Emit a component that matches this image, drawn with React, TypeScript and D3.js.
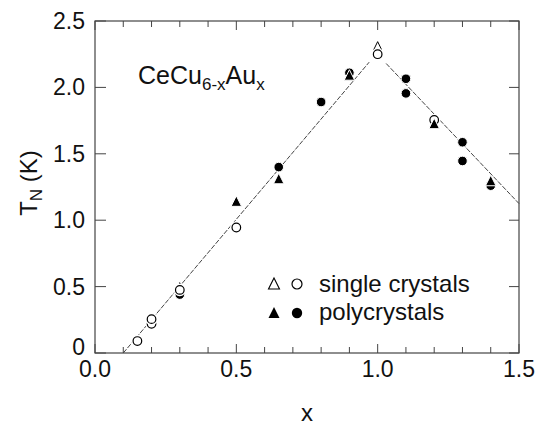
import React from "react";
import * as d3 from "d3";

const W = 538;
const H = 429;
const margin = { left: 95, right: 19, top: 21, bottom: 76 };

const xTicksMajor = [0.0, 0.5, 1.0, 1.5];
const xTickLabels = ["0.0", "0.5", "1.0", "1.5"];
const xTicksMinor = [0.1, 0.2, 0.3, 0.4, 0.6, 0.7, 0.8, 0.9, 1.1, 1.2, 1.3, 1.4];
const yTicks = [0, 0.5, 1.0, 1.5, 2.0, 2.5];
const yTickLabels = ["0", "0.5", "1.0", "1.5", "2.0", "2.5"];

// single crystals (drawn above the polycrystal symbols)
const singleCircleX = [0.15, 0.2, 0.2, 0.3, 0.5, 1.0];
const singleCircleY = [0.09, 0.22, 0.255, 0.475, 0.945, 2.25];
// single crystals partly hidden behind polycrystal symbols
const singleBackCircleX = [1.2];
const singleBackCircleY = [1.755];
const singleTriX = [1.0];
const singleTriY = [2.31];

// polycrystals
const polyCircleX = [0.3, 0.65, 0.8, 0.9, 1.1, 1.1, 1.3, 1.3, 1.4];
const polyCircleY = [0.44, 1.4, 1.89, 2.11, 2.065, 1.955, 1.587, 1.446, 1.26];
const polyTriX = [0.3, 0.5, 0.65, 0.9, 1.2, 1.4];
const polyTriY = [0.5, 1.14, 1.31, 2.09, 1.725, 1.295];

// guide lines
const leftLineX = [0.1, 0.97];
const leftLineY = [0, 2.19];
const rightLineX = [1.03, 1.5];
const rightLineY = [2.18, 1.125];

const FONT = "'Liberation Sans', Arial, Helvetica, sans-serif";

function tri(cx: number, cy: number, s: number) {
  const h = s * 0.9;
  return `M${cx},${cy - h / 2 - 1}L${cx + s / 2},${cy + h / 2}L${cx - s / 2},${cy + h / 2}Z`;
}

export default function App() {
  const x = d3.scaleLinear().domain([0, 1.5]).range([margin.left, W - margin.right]);
  const y = d3.scaleLinear().domain([0, 2.5]).range([H - margin.bottom, margin.top]);
  const line = d3
    .line<[number, number]>()
    .x((d) => x(d[0]))
    .y((d) => y(d[1]));
  const x0 = x(0), x1 = x(1.5), y0 = y(0), y1 = y(2.5);
  const R = 4.8;
  const TS = 10.5;

  const openCircle = (cx: number, cy: number, k: string) => (
    <g key={k}>
      <circle cx={cx} cy={cy} r={R} fill="#fff" stroke="#fff" strokeWidth={3} />
      <circle cx={cx} cy={cy} r={R - 0.5} fill="#fff" stroke="#000" strokeWidth={1.2} />
    </g>
  );

  return (
    <svg
      width={W}
      height={H}
      style={{ position: "absolute", left: 0, top: 0, background: "#fff" }}
      fontFamily={FONT}
    >
      <rect x={0} y={0} width={W} height={H} fill="#fff" />
      {/* guide lines */}
      <path
        d={line(leftLineX.map((v, i) => [v, leftLineY[i]]) as any) || ""}
        fill="none"
        stroke="#444"
        strokeWidth={1}
        strokeDasharray="5 1.5"
      />
      <path
        d={line(rightLineX.map((v, i) => [v, rightLineY[i]]) as any) || ""}
        fill="none"
        stroke="#444"
        strokeWidth={1}
        strokeDasharray="5 1.5"
      />
      {/* frame */}
      <rect x={x0} y={y1} width={x1 - x0} height={y0 - y1} fill="none" stroke="#444" strokeWidth={1.2} />
      {/* x ticks */}
      {xTicksMajor.map((t) => (
        <g key={"xm" + t}>
          <line x1={x(t)} x2={x(t)} y1={y0} y2={y0 - 9} stroke="#444" />
          <line x1={x(t)} x2={x(t)} y1={y1} y2={y1 + 9} stroke="#444" />
        </g>
      ))}
      {xTicksMinor.map((t) => (
        <g key={"xn" + t}>
          <line x1={x(t)} x2={x(t)} y1={y0} y2={y0 - 6} stroke="#444" />
          <line x1={x(t)} x2={x(t)} y1={y1} y2={y1 + 6} stroke="#444" />
        </g>
      ))}
      {xTicksMajor.map((t, i) => (
        <text key={"xl" + t} x={x(t)} y={y0 + 24} fontSize={23} textAnchor="middle" fill="#111">
          {xTickLabels[i]}
        </text>
      ))}
      {/* y ticks */}
      {yTicks.map((t) => (
        <g key={"y" + t}>
          <line x1={x0} x2={x0 + 11} y1={y(t)} y2={y(t)} stroke="#444" />
          <line x1={x1} x2={x1 - 10} y1={y(t)} y2={y(t)} stroke="#444" />
        </g>
      ))}
      {yTicks.map((t, i) => (
        <text
          key={"yl" + t}
          x={x0 - 10}
          y={y(t) + 8 - (t === 0 ? 6 : 0)}
          fontSize={23}
          textAnchor="end"
          fill="#111"
        >
          {yTickLabels[i]}
        </text>
      ))}
      {/* axis titles */}
      <text x={307} y={421} fontSize={24} textAnchor="middle" fill="#111">
        x
      </text>
      <text transform={`translate(37,183) rotate(-90)`} fontSize={24} textAnchor="middle" fill="#111">
        T<tspan fontSize={17} dy={5}>N</tspan>
        <tspan dy={-5}> (K)</tspan>
      </text>
      {/* compound label */}
      <text x={138} y={84} fontSize={25} fill="#111">
        CeCu<tspan fontSize={17} dy={6}>6-x</tspan>
        <tspan dy={-6}>Au</tspan>
        <tspan fontSize={17} dy={6}>x</tspan>
      </text>
      {/* markers */}
      {singleBackCircleX.map((v, i) => openCircle(x(v), y(singleBackCircleY[i]), "sb" + i))}
      {polyCircleX.map((v, i) => (
        <circle key={"pc" + i} cx={x(v)} cy={y(polyCircleY[i])} r={R} fill="#000" stroke="#fff" strokeWidth={1} />
      ))}
      {polyTriX.map((v, i) => (
        <path key={"pt" + i} d={tri(x(v), y(polyTriY[i]), TS)} fill="#000" stroke="#fff" strokeWidth={1} />
      ))}
      {singleTriX.map((v, i) => (
        <path key={"st" + i} d={tri(x(v), y(singleTriY[i]), 8)} fill="#fff" stroke="#000" strokeWidth={1} />
      ))}
      {singleCircleX.map((v, i) => openCircle(x(v), y(singleCircleY[i]), "sc" + i))}
      {/* legend */}
      <path d={tri(274, 284, 11)} fill="#fff" stroke="#000" strokeWidth={1.1} />
      <circle cx={297} cy={284} r={5} fill="#fff" stroke="#000" strokeWidth={1.2} />
      <text x={319} y={292} fontSize={24} fill="#111">
        single crystals
      </text>
      <path d={tri(274, 313, 11)} fill="#000" />
      <circle cx={297} cy={313} r={5.2} fill="#000" />
      <text x={319} y={320} fontSize={24} fill="#111">
        polycrystals
      </text>
    </svg>
  );
}
